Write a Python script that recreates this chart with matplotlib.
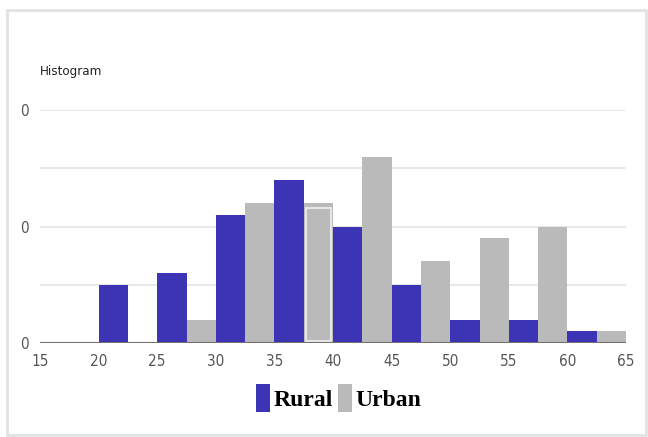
import matplotlib
matplotlib.use("Agg")
from matplotlib import pyplot as plt
from matplotlib.patches import Rectangle, Patch

import numpy as np


# histogram bins (left edges, width 5) and heights
bin_edges = [15, 20, 25, 30, 35, 40, 45, 50, 55, 60]
rural = [0, 1.0, 1.2, 2.2, 2.8, 2.0, 1.0, 0.4, 0.4, 0.2]
urban = [0, 0, 0.4, 2.4, 2.4, 3.2, 1.4, 1.8, 2.0, 0.2]
x_ticks = [15, 20, 25, 30, 35, 40, 45, 50, 55, 60, 65]
y_ticks = [0, 1, 2, 3, 4]
y_labels = ["0", "", "0", "", "0"]
series_names = ["Rural", "Urban"]

blue = "#3d33b5"
gray = "#bababa"
narrow = ["DejaVu Sans"]

fig = plt.figure(figsize=(6.48, 4.37), dpi=100)
fig.patches.append(Rectangle((7 / 648, 2 / 437), 639 / 648, 425 / 437, transform=fig.transFigure,
	fill=False, edgecolor="#e2e2e2", linewidth=2))

ax = fig.add_axes([40 / 648, 1 - 343 / 437, 586 / 648, 233 / 437])

w = 2.5
b = np.array(bin_edges)
ax.bar(b, rural, width=w, align="edge", color=blue, linewidth=0, zorder=2)
ub = ax.bar(b + w, urban, width=w, align="edge", color=gray, linewidth=0, zorder=2)

# the hovered bar in the original has a light inner stroke
hov = ub[4]
ax.add_patch(Rectangle((hov.get_x() + 0.2, 0.04), hov.get_width() - 0.4, hov.get_height() - 0.12,
	fill=False, edgecolor="#e6e6e6", linewidth=1.5, zorder=3))

ax.set_xlim(15, 65)
ax.set_ylim(0, 4)
ax.set_yticks(y_ticks)
ax.set_yticklabels(y_labels)
ax.set_xticks(x_ticks)
ax.grid(axis="y", color="#e8e8e8", linewidth=1.5, zorder=0)
ax.axhline(0, color="#707070", linewidth=2.2, zorder=4)
for s in ax.spines.values():
	s.set_visible(False)
ax.tick_params(length=0, labelsize=11, labelcolor="#555555")
ax.tick_params(axis="x", pad=8)
ax.tick_params(axis="y", pad=8)
for lab in ax.get_xticklabels() + ax.get_yticklabels():
	lab.set_family(narrow)
	lab.set_stretch("condensed")

fig.text(40 / 648, 1 - 71 / 437, "Histogram", family=narrow, stretch="condensed", fontsize=9.5,
	color="#222222", va="center", ha="left")

handles = [Patch(facecolor=blue), Patch(facecolor=gray)]
fig.legend(handles, series_names, loc="center", bbox_to_anchor=(0.523, 1 - 398 / 437), ncol=2,
	frameon=False, handlelength=0.6, handleheight=1.5, handletextpad=0.15, columnspacing=0.2,
	prop={"family": "Liberation Serif", "weight": "bold", "size": 17})

fig.savefig("out.png", dpi=100)
